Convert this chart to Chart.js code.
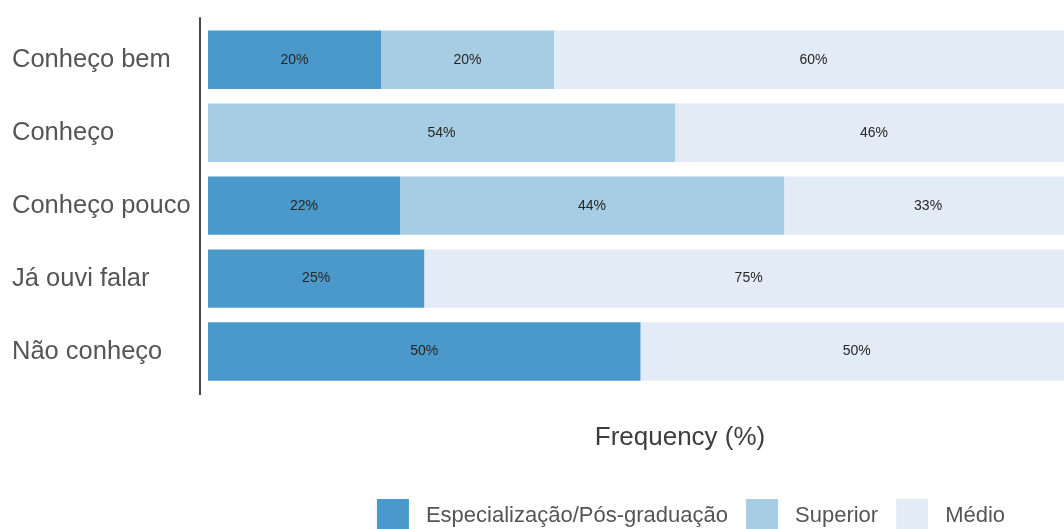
<!DOCTYPE html>
<html>
<head>
<meta charset="utf-8">
<script src="https://cdn.jsdelivr.net/npm/chart.js@4/dist/chart.umd.min.js"></script>
<style>
  html, body { margin: 0; padding: 0; background: #ffffff; overflow: hidden; }
  #wrap { position: relative; width: 1200px; height: 545px; }
</style>
</head>
<body>
<div id="wrap"><canvas id="c"></canvas></div>
<script>
const categories = ['Conheço bem', 'Conheço', 'Conheço pouco', 'Já ouvi falar', 'Não conheço'];
const seriesNames = ['Especialização/Pós-graduação', 'Superior', 'Médio'];
const especializacao = [20, 0, 22.2, 25, 50];
const superior = [20, 54, 44.4, 0, 0];
const medio = [60, 46, 33.3, 75, 50];
const axisTitle = 'Frequency (%)';

const colors = ['#4b98ca', '#a7cde4', '#e3ebf6'];
const FONT = "'Liberation Sans', Arial, sans-serif";

const axisLinePlugin = {
  id: 'axisLine',
  afterDatasetsDraw(chart) {
    const { ctx, chartArea } = chart;
    ctx.save();
    ctx.strokeStyle = '#4a4a4a';
    ctx.lineWidth = 2;
    ctx.beginPath();
    ctx.moveTo(chartArea.left, chartArea.top - 6);
    ctx.lineTo(chartArea.left, chartArea.bottom + 7);
    ctx.stroke();
    ctx.restore();
  }
};

const barLabelPlugin = {
  id: 'barLabels',
  afterDatasetsDraw(chart) {
    const { ctx } = chart;
    ctx.save();
    ctx.font = '14px ' + FONT;
    ctx.fillStyle = '#262626';
    ctx.textAlign = 'center';
    ctx.textBaseline = 'middle';
    chart.data.datasets.forEach((ds, di) => {
      const meta = chart.getDatasetMeta(di);
      meta.data.forEach((bar, i) => {
        const v = ds.data[i];
        if (!v) return;
        const p = bar.getCenterPoint();
        ctx.fillText(Math.round(v) + '%', p.x, p.y);
      });
    });
    ctx.restore();
  }
};

const legendPlugin = {
  id: 'customLegend',
  afterDraw(chart) {
    const { ctx } = chart;
    const box = 32, gapText = 17, gapItem = 18, cx = 691, cy = 515;
    ctx.save();
    ctx.font = '22px ' + FONT;
    const items = chart.data.datasets.map(ds => ({ label: ds.label, color: ds.backgroundColor, w: ctx.measureText(ds.label).width }));
    let total = 0;
    items.forEach((it, i) => { total += box + gapText + it.w + (i < items.length - 1 ? gapItem : 0); });
    let x = cx - total / 2;
    ctx.textBaseline = 'middle';
    ctx.textAlign = 'left';
    items.forEach(it => {
      ctx.fillStyle = it.color;
      ctx.fillRect(x, cy - box / 2, box, box);
      x += box + gapText;
      ctx.fillStyle = '#555555';
      ctx.fillText(it.label, x, cy + 1);
      x += it.w + gapItem;
    });
    ctx.restore();
  }
};

new Chart(document.getElementById('c'), {
  type: 'bar',
  data: {
    labels: categories,
    datasets: [
      { label: seriesNames[0], data: especializacao, backgroundColor: colors[0] },
      { label: seriesNames[1], data: superior, backgroundColor: colors[1] },
      { label: seriesNames[2], data: medio, backgroundColor: colors[2] }
    ]
  },
  options: {
    indexAxis: 'y',
    responsive: true,
    maintainAspectRatio: false,
    animation: false,
    events: [],
    layout: { padding: { left: 12, top: 19, right: 40, bottom: 88 } },
    datasets: { bar: { categoryPercentage: 0.8, barPercentage: 1.0, borderWidth: 0 } },
    plugins: { legend: { display: false }, tooltip: { enabled: false } },
    scales: {
      x: {
        stacked: true,
        min: -0.925,
        max: 110.06,
        grid: { display: false },
        border: { display: false },
        ticks: { display: false },
        title: { display: true, text: axisTitle, color: '#3d3d3d', font: { family: FONT, size: 26 }, padding: 4 },
        afterFit(scale) { scale.height = 69; }
      },
      y: {
        stacked: true,
        grid: { display: false },
        border: { display: false },
        ticks: { crossAlign: 'far', color: '#555555', font: { family: FONT, size: 25.5 }, padding: 8 },
        afterFit(scale) { scale.width = 188; }
      }
    }
  },
  plugins: [axisLinePlugin, barLabelPlugin, legendPlugin]
});
</script>
</body>
</html>
